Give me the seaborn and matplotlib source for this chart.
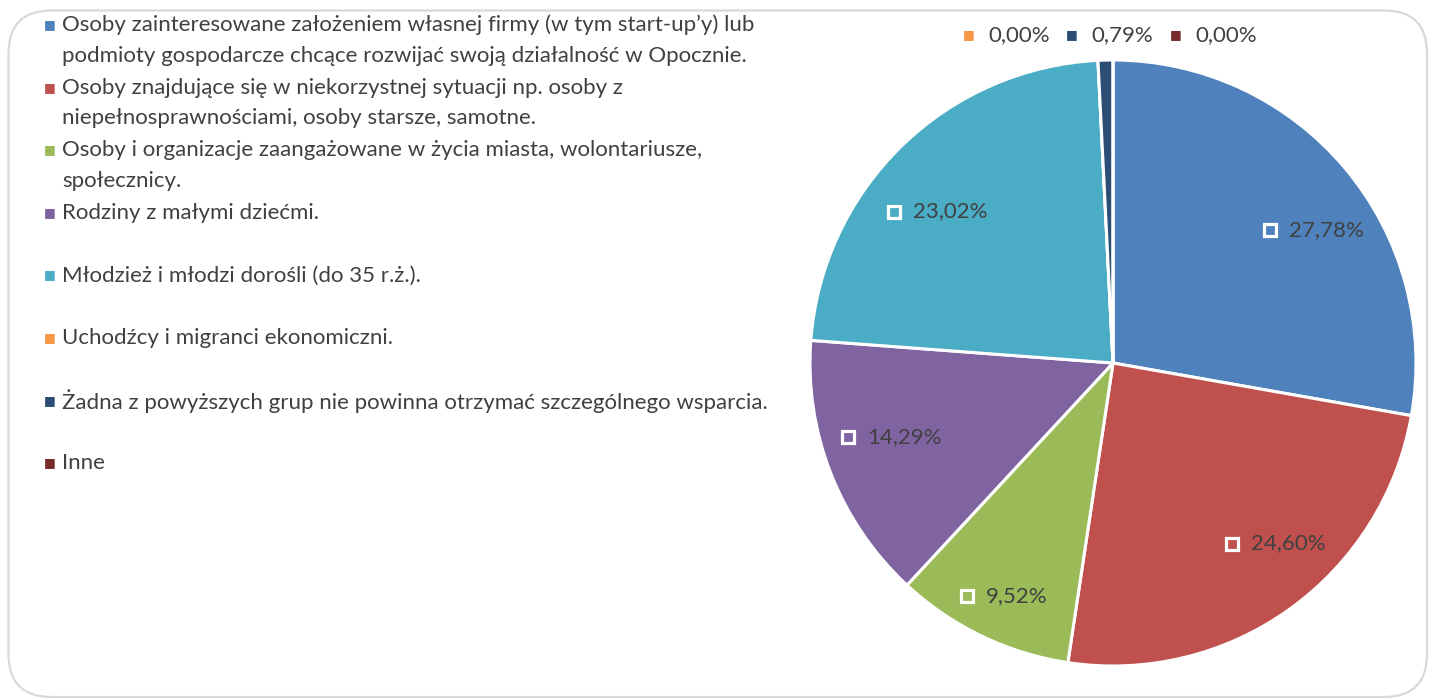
import numpy as np
import matplotlib
matplotlib.use("Agg")
import matplotlib.pyplot as plt
import seaborn as sns
from matplotlib.patches import FancyBboxPatch

sns.set_theme(style="white")
plt.rcParams['font.family'] = ['Lato', 'DejaVu Sans']

# ---- data ----
categories = [
    "Osoby zainteresowane założeniem własnej firmy (w tym start-up’y) lub\npodmioty gospodarcze chcące rozwijać swoją działalność w Opocznie.",
    "Osoby znajdujące się w niekorzystnej sytuacji np. osoby z\nniepełnosprawnościami, osoby starsze, samotne.",
    "Osoby i organizacje zaangażowane w życia miasta, wolontariusze,\nspołecznicy.",
    "Rodziny z małymi dziećmi.",
    "Młodzież i młodzi dorośli (do 35 r.ż.).",
    "Uchodźcy i migranci ekonomiczni.",
    "Żadna z powyższych grup nie powinna otrzymać szczególnego wsparcia.",
    "Inne",
]
values = [27.78, 24.60, 9.52, 14.29, 23.02, 0.00, 0.79, 0.00]
value_labels = ["27,78%", "24,60%", "9,52%", "14,29%", "23,02%", "0,00%", "0,79%", "0,00%"]
colors = ["#4F81BD", "#C0504D", "#9BBB59", "#8064A2", "#4BACC6", "#F79646", "#2C4D75", "#772C2A"]

W, H = 1429, 698
FS = 16
fig = plt.figure(figsize=(W / 100, H / 100), dpi=100)
fig.patch.set_facecolor("white")

# frame
frame = FancyBboxPatch((8.5 / W, 1 - 697 / H), (1427 - 8.5) / W, (697 - 10.5) / H,
                       boxstyle="round,pad=0,rounding_size=0.03",
                       transform=fig.transFigure, facecolor="none",
                       edgecolor="#D9D9D9", linewidth=1.6, mutation_aspect=W / H, zorder=-1)
fig.patches.append(frame)

# pie axes
cx, cy, r = 1113, 363, 303
ax = fig.add_axes([(cx - r) / W, (H - cy - r) / H, 2 * r / W, 2 * r / H])
wedges, _ = ax.pie(values, colors=colors, startangle=90, counterclock=False,
                   wedgeprops=dict(edgecolor="white", linewidth=2.2))
ax.set_xlim(-1, 1)
ax.set_ylim(-1, 1)
ax.set_aspect("equal")
ax.axis("off")

txt_color = "#404040"
# label placement tuning (radial distance, angular offset from wedge middle)
lab_r = [0.68, 0.714, 0.908, 0.908, 0.88]
lab_da = [0.3, -2.3, -6.4, -5.8, 11.1]
for i in range(5):
    w = wedges[i]
    mid = np.deg2rad((w.theta1 + w.theta2) / 2 + lab_da[i])
    mx, my = lab_r[i] * np.cos(mid), lab_r[i] * np.sin(mid)
    ax.plot(mx, my, marker="s", markersize=8.5, markerfacecolor=colors[i],
            markeredgecolor="white", markeredgewidth=2.3, zorder=5)
    ax.text(mx + 0.063, my, value_labels[i], ha="left", va="center", fontsize=FS,
            color=txt_color, zorder=6)

# top labels for tiny slices
top_x = [969, 1072, 1176]
for xm, idx in zip(top_x, [5, 6, 7]):
    fig.text(xm / W, 1 - 34 / H, "■", color=colors[idx], fontsize=9, ha="center", va="center")
    fig.text((xm + 19) / W, 1 - 35 / H, value_labels[idx], color=txt_color, fontsize=FS,
             ha="left", va="center")

# legend on the left
y0, step, lstep = 25, 62.6, 30.5
for i, (cat, col) in enumerate(zip(categories, colors)):
    y = y0 + i * step
    fig.text(50 / W, 1 - (y - 1) / H, "■", color=col, fontsize=9, ha="center", va="center")
    for j, line in enumerate(cat.split("\n")):
        fig.text(62 / W, 1 - (y + j * lstep) / H, line, color=txt_color, fontsize=FS,
                 ha="left", va="center")

fig.savefig("out.png", dpi=100, facecolor="white")
